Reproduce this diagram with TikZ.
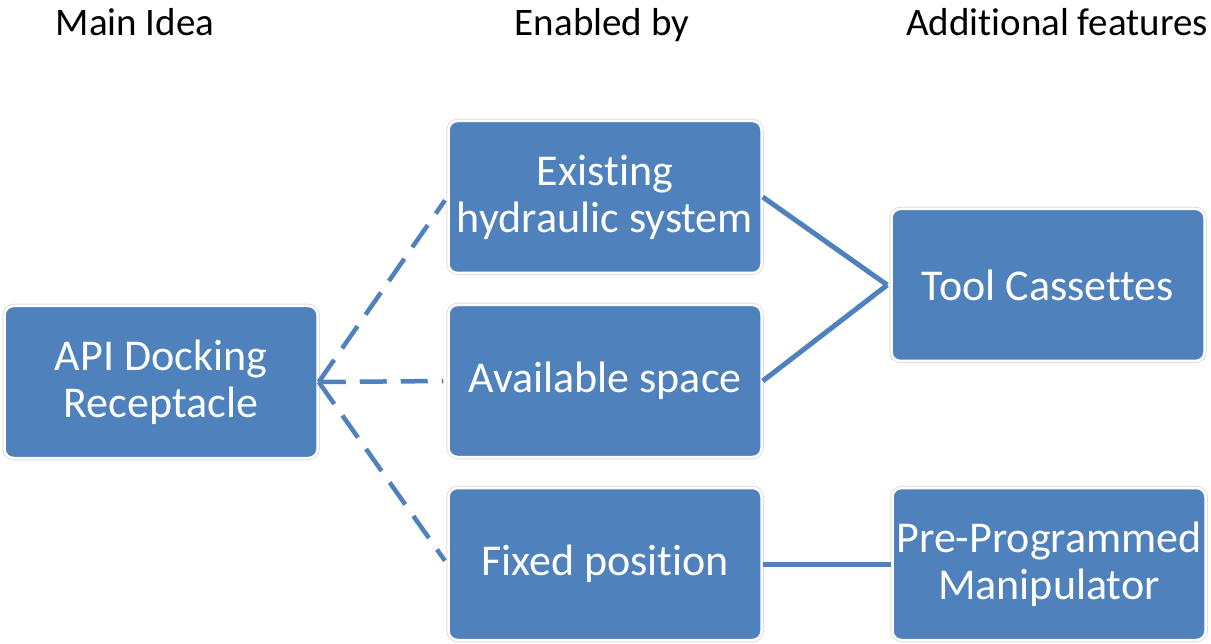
\documentclass[tikz,border=0pt]{standalone}
\usepackage{fontspec}
\setmainfont{Carlito}[Ligatures={NoCommon,NoContextual},RawFeature={-liga;-clig;-calt;-dlig}]
\definecolor{boxblue}{HTML}{4F81BD}
\tikzset{
  box/.style={rectangle, rounded corners=9pt, fill=boxblue, draw=white, line width=2.5pt,
    preaction={draw=black!12, line width=4.5pt},
    minimum width=313pt, minimum height=152pt, align=center, text=white,
    font=\fontsize{44}{47}\selectfont, inner sep=0pt},
  head/.style={anchor=base, font=\fontsize{39}{44}\selectfont},
  dashlink/.style={draw=boxblue, line width=4.5pt, dash pattern=on 27pt off 14pt},
  link/.style={draw=boxblue, line width=5pt}
}
\begin{document}
\begin{tikzpicture}[x=1pt,y=-1pt]
\useasboundingbox (0,0) rectangle (1211,644);
\node[head] (mainidea) at (135,36) {Main Idea};
\node[head] (enabledby) at (602,36) {Enabled by};
\node[head] (additional) at (1057,36) {Additional features};
\node[box] (api) at (161,382) {API Docking\\Receptacle};
\node[box] (hydraulic) at (605,197) {Existing\\hydraulic system};
\node[box] (space) at (605,381) {Available space};
\node[box] (fixed) at (605,564) {Fixed position};
\node[box] (tools) at (1048,285) {Tool Cassettes};
\node[box] (manip) at (1049,564) {Pre-Programmed\\Manipulator};
\foreach \n in {hydraulic,space,fixed}{
\draw[dashlink, shorten >=4pt] (api.east) -- (\n.west);
}
\draw[link] (hydraulic.east) -- ([xshift=-3pt]tools.west);
\draw[link] (space.east) -- ([xshift=-3pt]tools.west);
\draw[link] (fixed.east) -- (manip.west);
\end{tikzpicture}
\end{document}
